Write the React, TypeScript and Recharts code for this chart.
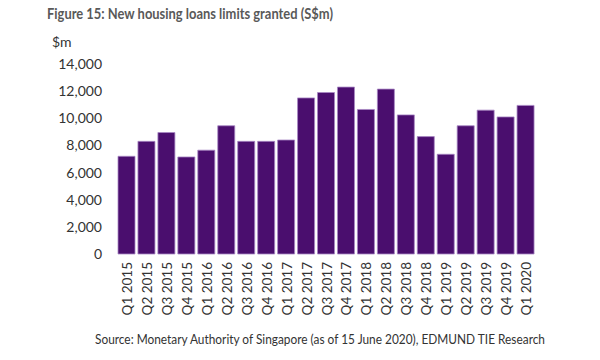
import React from 'react';
import { BarChart, Bar, XAxis, YAxis } from 'recharts';

const quarters = [
  'Q1 2015', 'Q2 2015', 'Q3 2015', 'Q4 2015',
  'Q1 2016', 'Q2 2016', 'Q3 2016', 'Q4 2016',
  'Q1 2017', 'Q2 2017', 'Q3 2017', 'Q4 2017',
  'Q1 2018', 'Q2 2018', 'Q3 2018', 'Q4 2018',
  'Q1 2019', 'Q2 2019', 'Q3 2019', 'Q4 2019',
  'Q1 2020',
];
const loans = [
  7200, 8300, 8950, 7150,
  7650, 9450, 8300, 8300,
  8400, 11500, 11900, 12300,
  10650, 12150, 10250, 8650,
  7350, 9450, 10600, 10100,
  10950,
];
const yTicks = [0, 2000, 4000, 6000, 8000, 10000, 12000, 14000];

const data = quarters.map((q, i) => ({ q, v: loans[i] }));

const FONT = 'Lato, "Open Sans", sans-serif';
const fmt = (n: number) => n.toLocaleString('en-US');

const XTick = (props: any) => {
  const { x, y, payload } = props;
  return (
    <text
      transform={`translate(${x},${y}) rotate(-90)`}
      textAnchor="end"
      dominantBaseline="central"
      fontFamily={FONT}
      fontSize={13.5}
      fill="#333"
    >
      {payload.value}
    </text>
  );
};

export default function App() {
  return (
    <div style={{ position: 'fixed', left: 0, top: 0, width: 600, height: 360, background: '#fff' }}>
      <BarChart
        width={600}
        height={360}
        data={data}
        margin={{ top: 64, right: 64, bottom: 30, left: 57 }}
      >
        <XAxis
          dataKey="q"
          axisLine={false}
          tickLine={false}
          interval={0}
          height={76}
          tick={<XTick />}
          tickSize={0}
          tickMargin={8}
        />
        <YAxis
          domain={[0, 14000]}
          ticks={yTicks}
          width={60}
          axisLine={false}
          tickLine={false}
          tickSize={0}
          tickMargin={15}
          tickFormatter={fmt}
          tick={{ fontFamily: FONT, fontSize: 14, fill: '#333' }}
        />
        <Bar dataKey="v" fill="#4a0e6e" stroke="#a888c4" strokeWidth={0.8} barSize={17} isAnimationActive={false} />
      </BarChart>
      <svg width={600} height={360} style={{ position: 'absolute', left: 0, top: 0, pointerEvents: 'none' }}>
        <text x={47} y={19} fontFamily={FONT} fontWeight={700} fontSize={15.5} fill="#595959" textLength={286} lengthAdjust="spacingAndGlyphs">
          Figure 15: New housing loans limits granted (S$m)
        </text>
        <text x={52} y={47} fontFamily={FONT} fontSize={14} fill="#333">$m</text>
        <text x={95} y={344} fontFamily={FONT} fontSize={13} fill="#333" textLength={450} lengthAdjust="spacingAndGlyphs">
          Source: Monetary Authority of Singapore (as of 15 June 2020), EDMUND TIE Research
        </text>
      </svg>
    </div>
  );
}
